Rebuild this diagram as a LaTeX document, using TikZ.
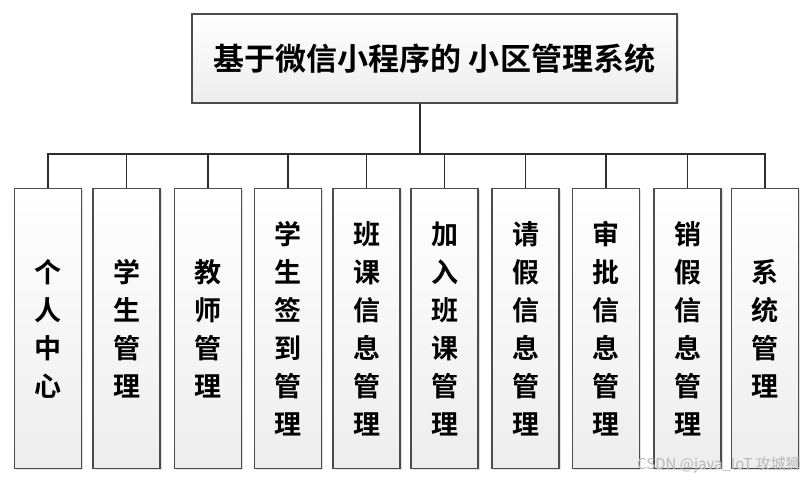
\documentclass[tikz,border=0pt]{standalone}
\usepackage{fontspec}
\newfontfamily\cjk[BoldFont={Noto Sans CJK SC Bold}]{Noto Sans CJK SC}
\usetikzlibrary{shadows}

\tikzset{
    boxbase/.style={draw=gray!60!black, line width=1.2bp, inner sep=0pt,
        top color=white, bottom color=gray!14,
        drop shadow={shadow xshift=1.5bp, shadow yshift=-1.5bp, fill=gray!50}},
    rootbox/.style={boxbase, minimum width=485bp, minimum height=89bp,
        font=\cjk\bfseries\fontsize{31bp}{36bp}\selectfont},
    modbox/.style={boxbase, anchor=north, minimum width=67bp, minimum height=280bp,
        align=center, font=\cjk\bfseries\fontsize{27bp}{38bp}\selectfont},
    link/.style={draw=gray!35!black, line width=1.5bp}
}

\begin{document}
\begin{tikzpicture}[x=1bp, y=-1bp]
    \useasboundingbox (0, 0) rectangle (811, 484);

    % top
    \node [rootbox] (sys) at (434.5, 58.5){基于微信小程序的 小区管理系统};
    \coordinate (bus) at (420, 154);

    % modules
    \foreach \i/\x/\t in {1/48/{个\\人\\中\\心}, 2/126.5/{学\\生\\管\\理},
        3/208/{教\\师\\管\\理}, 4/288/{学\\生\\签\\到\\管\\理},
        5/366.5/{班\\课\\信\\息\\管\\理}, 6/444.5/{加\\入\\班\\课\\管\\理},
        7/525.5/{请\\假\\信\\息\\管\\理}, 8/606/{审\\批\\信\\息\\管\\理},
        9/687.5/{销\\假\\信\\息\\管\\理}, 10/765/{系\\统\\管\\理}}{
        \node [modbox] (m\i) at (\x, 188){\t};
        \draw [link] (bus |- sys.south) -- (bus) -| (m\i.north);
    }

    % watermark
    \node [text=gray!55, font=\cjk\fontsize{15bp}{17bp}\selectfont] (mark) at (719, 465){CSDN @java\_IoT 攻城狮};
\end{tikzpicture}
\end{document}
